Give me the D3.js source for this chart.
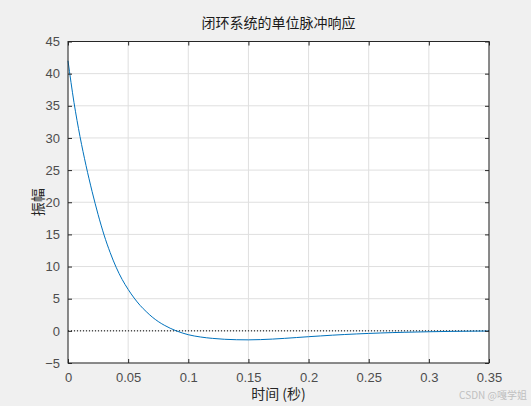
<!DOCTYPE html>
<html>
<head>
<meta charset="utf-8">
<script src="https://cdn.jsdelivr.net/npm/d3@7"></script>
<style>
  body { margin: 0; background: #f0f0f0; }
  svg { display: block; }
  text { font-family: "Liberation Sans", Arial, sans-serif; }
</style>
</head>
<body>
<div id="chart"></div>
<script>
"use strict";

// impulse response
let timeValues = [0, 0.005, 0.01, 0.015, 0.02, 0.025, 0.03, 0.035, 0.04, 0.045,
    0.05, 0.055, 0.06, 0.065, 0.07, 0.075, 0.08, 0.085, 0.09, 0.095,
    0.1, 0.11, 0.12, 0.13, 0.14, 0.15, 0.16, 0.17, 0.18, 0.19,
    0.2, 0.21, 0.22, 0.23, 0.24, 0.25, 0.26, 0.27, 0.28, 0.29,
    0.3, 0.31, 0.32, 0.33, 0.34, 0.35];
let amplitudeValues = [42, 35.5, 30.2, 25.7, 21.7, 18.1, 14.9, 12.2, 9.9, 8.0,
    6.45, 5.1, 3.95, 3.0, 2.15, 1.45, 0.88, 0.4, 0.0, -0.33,
    -0.6, -0.95, -1.17, -1.31, -1.38, -1.4, -1.36, -1.28, -1.17, -1.04,
    -0.91, -0.79, -0.67, -0.57, -0.48, -0.4, -0.33, -0.27, -0.22, -0.18,
    -0.14, -0.11, -0.08, -0.06, -0.04, -0.03];

let xTicks = [0, 0.05, 0.1, 0.15, 0.2, 0.25, 0.3, 0.35];
let yTicks = [-5, 0, 5, 10, 15, 20, 25, 30, 35, 40, 45];

let titleText = "闭环系统的单位脉冲响应";
let xLabelText = "时间 (秒)";
let yLabelText = "振幅";
let watermarkText = "CSDN @嘎学姐";

let width = 531, height = 406;
let margin = {left: 68, right: 42, top: 41.5, bottom: 43};
let innerW = width - margin.left - margin.right;
let innerH = height - margin.top - margin.bottom;

let svg = d3.select("#chart").append("svg")
    .attr("width", width)
    .attr("height", height);

svg.append("rect")
    .attr("width", width)
    .attr("height", height)
    .style("fill", "#f0f0f0");

let g = svg.append("g")
    .attr("transform", "translate(" + margin.left + "," + margin.top + ")");

let x = d3.scaleLinear().domain([0, 0.35]).range([0, innerW]);
let y = d3.scaleLinear().domain([-5, 45]).range([innerH, 0]);

g.append("rect")
    .attr("width", innerW)
    .attr("height", innerH)
    .style("fill", "#ffffff");

// grid
g.selectAll(".vgrid")
    .data(xTicks)
    .enter().append("line")
    .attr("class", "vgrid")
    .attr("x1", d => x(d)).attr("x2", d => x(d))
    .attr("y1", 0).attr("y2", innerH)
    .style("stroke", "#dfdfdf")
    .style("stroke-width", 1);

g.selectAll(".hgrid")
    .data(yTicks)
    .enter().append("line")
    .attr("class", "hgrid")
    .attr("x1", 0).attr("x2", innerW)
    .attr("y1", d => y(d)).attr("y2", d => y(d))
    .style("stroke", "#dfdfdf")
    .style("stroke-width", 1);

// zero line
g.append("line")
    .attr("x1", 0).attr("x2", innerW)
    .attr("y1", y(0)).attr("y2", y(0))
    .style("stroke", "#000")
    .style("stroke-width", 1)
    .style("stroke-dasharray", "1,2");

let points = timeValues.map((t, i) => [t, amplitudeValues[i]]);

let line = d3.line()
    .x(d => x(d[0]))
    .y(d => y(d[1]))
    .curve(d3.curveMonotoneX);

g.append("path")
    .datum(points)
    .attr("d", line)
    .style("fill", "none")
    .style("stroke", "#0072bd")
    .style("stroke-width", 1);

// axes, ticks inward on all four sides
let axisColor = "#4d4d4d";

function styleAxis(sel) {
    sel.select(".domain").remove();
    sel.selectAll(".tick line").style("stroke", "#262626");
    sel.selectAll(".tick text")
        .style("fill", axisColor)
        .style("font-size", "13px")
        .attr("font-family", "Liberation Sans, Arial, sans-serif");
}

let fmt = d => d3.format("")(d);

g.append("g")
    .attr("transform", "translate(0," + innerH + ")")
    .call(d3.axisBottom(x).tickValues(xTicks).tickFormat(fmt).tickSizeInner(-4).tickPadding(10))
    .call(styleAxis);

g.append("g")
    .call(d3.axisTop(x).tickValues(xTicks).tickFormat("").tickSizeInner(-4))
    .call(styleAxis);

g.append("g")
    .call(d3.axisLeft(y).tickValues(yTicks).tickFormat(fmt).tickSizeInner(-4).tickPadding(8))
    .call(styleAxis);

g.append("g")
    .attr("transform", "translate(" + innerW + ",0)")
    .call(d3.axisRight(y).tickValues(yTicks).tickFormat("").tickSizeInner(-4))
    .call(styleAxis);

g.append("rect")
    .attr("width", innerW)
    .attr("height", innerH)
    .style("fill", "none")
    .style("stroke", "#262626")
    .style("stroke-width", 1);

// labels
svg.append("text")
    .attr("x", margin.left + innerW / 2)
    .attr("y", 28)
    .attr("text-anchor", "middle")
    .style("font-family", "Noto Sans CJK SC, sans-serif")
    .style("font-size", "14px")
    .style("fill", "#1a1a1a")
    .text(titleText);

svg.append("text")
    .attr("x", margin.left + innerW / 2)
    .attr("y", 399)
    .attr("text-anchor", "middle")
    .style("font-family", "Noto Sans CJK SC, sans-serif")
    .style("font-size", "14px")
    .style("fill", "#262626")
    .text(xLabelText);

svg.append("text")
    .attr("transform", "translate(43," + (margin.top + innerH / 2) + ") rotate(-90)")
    .attr("text-anchor", "middle")
    .style("font-family", "Noto Sans CJK SC, sans-serif")
    .style("font-size", "14px")
    .style("fill", "#262626")
    .text(yLabelText);

svg.append("text")
    .attr("x", 527)
    .attr("y", 399)
    .attr("text-anchor", "end")
    .style("font-family", "Noto Sans CJK SC, sans-serif")
    .style("font-size", "10px")
    .style("fill", "#c0c0c0")
    .text(watermarkText);
</script>
</body>
</html>
